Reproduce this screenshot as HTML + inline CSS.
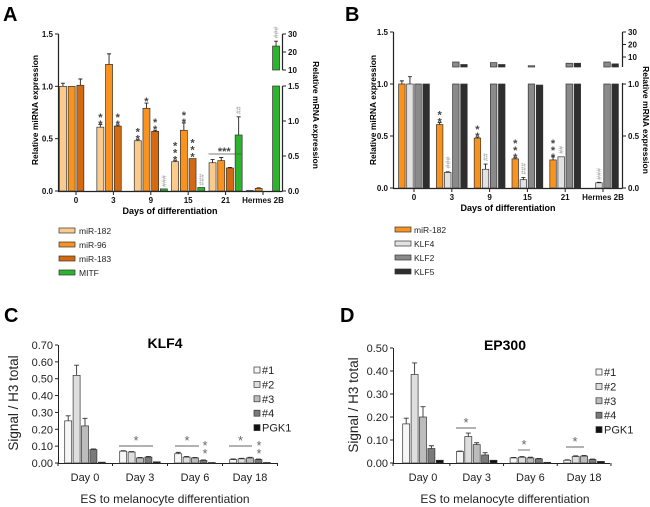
<!DOCTYPE html>
<html><head><meta charset="utf-8"><style>
html,body{margin:0;padding:0;background:#fff}
svg{display:block;font-family:"Liberation Sans",Arial,sans-serif}
</style></head><body>
<svg id="fig" width="650" height="507" viewBox="0 0 650 507"></svg>
<script>
// ---------- Panel A data ----------
const aCats=['0','3','9','15','21','Hermes 2B'];
const aMir182=[1.0,0.61,0.48,0.28,0.27,0.005];
const aMir182Err=[0.03,0.025,0.01,0.01,0.03,0];
const aMir96=[1.0,1.21,0.79,0.58,0.29,0.025];
const aMir96Err=[0,0.1,0.05,0.07,0.03,0.005];
const aMir183=[1.01,0.62,0.57,0.31,0.22,null];
const aMir183Err=[0.06,0.01,0.01,0,0.005,0];
const aMitf=[null,null,0.03,0.05,0.80,23.3];
const aMitfErr=[0,0,0,0,0.26,2.7];
const aLeftTicks=[0,0.5,1.0,1.5];
const aRightLowTicks=[0,0.5,1.0,1.5];
const aRightHighTicks=[10,20,30];
// ---------- Panel B data ----------
const bCats=['0','3','9','15','21','Hermes 2B'];
const bMir182=[1.0,0.61,0.48,0.28,0.27,0];
const bMir182Err=[0.03,0.02,0.01,0.01,0.03,0];
const bKlf4=[1.0,0.15,0.18,0.08,0.30,0.05];
const bKlf4Err=[0.07,0.005,0.05,0.02,0,0.005];
const bKlf2=[1,6,5.5,3,5,6];
const bKlf5=[1,4,4,0.99,5,4.5];
const bLeftTicks=[0,0.5,1.0,1.5];
const bRightLowTicks=[0,0.5,1.0];
const bRightHighTicks=[10,20,30];
// ---------- Panel C data ----------
const cCats=['Day 0','Day 3','Day 6','Day 18'];
const c1=[0.25,0.07,0.055,0.02];
const c1Err=[0.03,0.003,0.008,0.004];
const c2=[0.52,0.065,0.035,0.025];
const c2Err=[0.06,0.003,0.004,0.003];
const c3=[0.22,0.03,0.03,0.03];
const c3Err=[0.045,0.003,0.003,0.004];
const c4=[0.08,0.035,0.015,0.02];
const c4Err=[0.003,0.004,0.003,0.003];
const cPgk=[0.005,0.007,0.003,0.003];
const cTicks=[0,0.1,0.2,0.3,0.4,0.5,0.6,0.7];
// ---------- Panel D data ----------
const dCats=['Day 0','Day 3','Day 6','Day 18'];
const d1=[0.17,0.05,0.022,0.012];
const d1Err=[0.025,0.002,0.002,0.002];
const d2=[0.385,0.115,0.025,0.028];
const d2Err=[0.05,0.015,0.003,0.003];
const d3=[0.2,0.08,0.022,0.03];
const d3Err=[0.045,0.008,0.003,0.003];
const d4=[0.063,0.035,0.018,0.015];
const d4Err=[0.012,0.01,0.002,0.002];
const dPgk=[0.012,0.012,0.003,0.007];
const dTicks=[0,0.1,0.2,0.3,0.4,0.5];

const NS='http://www.w3.org/2000/svg';
const svg=document.getElementById('fig');
function mk(tag,attrs,parent){const e=document.createElementNS(NS,tag);for(const k in attrs)e.setAttribute(k,attrs[k]);(parent||svg).appendChild(e);return e;}
function txt(x,y,s,attrs,parent){const e=mk('text',Object.assign({x:x,y:y},attrs||{}),parent);e.textContent=s;return e;}
function grp(name){const g=mk('g',{});return g;}

// ================= PANEL A =================
(function(){
const g=grp('panel-a');
const yL=v=>191-104.67*v;
const yR=v=>v<=1.5?191-70*v:70-(v-10)*1.8;
const cx=i=>76+37.4*i;
const slot=(i,s)=>cx(i)+(s-1.5)*8.7;
const bw=7;
const pl=txt(3,21,'A',{'font-size':20,'font-weight':'bold'},g);

const ax=mk('path',{d:'M58.5,34V191.5H282.5',stroke:'#222','stroke-width':1.2,fill:'none'},g);

const ra=mk('path',{d:'M282.5,86V191.5M282.5,34V70',stroke:'#222','stroke-width':1.2,fill:'none'},g);

aLeftTicks.forEach(v=>{mk('line',{x1:55,x2:58.5,y1:yL(v),y2:yL(v),stroke:'#222'},g);
 const t=txt(53,yL(v)+3,v.toFixed(1),{'font-size':8,'font-weight':'bold','text-anchor':'end',fill:'#111'},g);
 });
aRightLowTicks.forEach(v=>{mk('line',{x1:282.5,x2:286,y1:yR(v),y2:yR(v),stroke:'#222'},g);
 const t=txt(288,yR(v)+3,v.toFixed(1),{'font-size':8,'font-weight':'bold',fill:'#111'},g);
 });
aRightHighTicks.forEach(v=>{mk('line',{x1:282.5,x2:286,y1:yR(v),y2:yR(v),stroke:'#222'},g);
 const t=txt(288,yR(v)+3,String(v),{'font-size':8,'font-weight':'bold',fill:'#111'},g);
 });
aCats.forEach((c,i)=>{mk('line',{x1:cx(i),x2:cx(i),y1:191.5,y2:195},g);
 const t=txt(cx(i),203,c,{'font-size':8,'font-weight':'bold','text-anchor':'middle',fill:'#111'},g);
 });
g.querySelectorAll('line').forEach(l=>l.setAttribute('stroke','#222'));
const xt=txt(170,214,'Days of differentiation',{'font-size':9,'font-weight':'bold','text-anchor':'middle'},g);

const yt=txt(0,0,'Relative miRNA expression',{'font-size':8.5,'font-weight':'bold','text-anchor':'middle',transform:'translate(38,110) rotate(-90)'},g);

const yt2=txt(0,0,'Relative mRNA expression',{'font-size':8.5,'font-weight':'bold','text-anchor':'middle',transform:'translate(313,115) rotate(90)'},g);

function bar(x,y0,y1,fill,name){const r=mk('rect',{x:x-bw/2,y:Math.min(y0,y1),width:bw,height:Math.abs(y1-y0),fill:fill,stroke:'#333','stroke-width':0.7},g);
 return r;}
function err(x,yt,ye){if(ye>=yt-0.5)return;mk('path',{d:`M${x},${yt}V${ye}M${x-2},${ye}H${x+2}`,stroke:'#222','stroke-width':0.9,fill:'none'},g);}
const series=[[aMir182,aMir182Err,'#fbcb8e','bar-mir-182'],[aMir96,aMir96Err,'#f7931e','bar-mir-96'],[aMir183,aMir183Err,'#d4690f','bar-mir-183']];
series.forEach((s,si)=>{s[0].forEach((v,i)=>{if(v===null)return;const x=slot(i,si);bar(x,191,yL(v),s[2],s[3]);err(x,yL(v),yL(v+s[1][i]));});});
aMitf.forEach((v,i)=>{if(v===null)return;const x=slot(i,3);
 if(v<=1.5){bar(x,191,yR(v),'#2cb52c','bar-mitf');err(x,yR(v),yR(v+aMitfErr[i]));}
 else{bar(x,191,86,'#2cb52c','bar-mitf');bar(x,70,yR(v),'#2cb52c','bar-mitf-upper');err(x,yR(v),yR(v+aMitfErr[i]));}});
function vstack(x,yb,n){for(let k=0;k<n;k++){const t=txt(x,yb+2-k*7,'*',{'font-size':11,'font-weight':'bold','text-anchor':'middle',fill:'#444'},g);}}
function hashes(x,yb,n){const t=txt(0,0,'#'.repeat(n),{'font-size':7,fill:'#999',transform:`translate(${x+2.5},${yb}) rotate(-90)`},g);}
vstack(slot(1,0),yL(0.64)+2,2);vstack(slot(1,2),yL(0.64)+2,2);
vstack(slot(2,0),yL(0.5)+2,2);vstack(slot(2,1),yL(0.86)+2,1);vstack(slot(2,2),yL(0.59)+2,2);
vstack(slot(3,0),yL(0.30)+2,3);vstack(slot(3,1),yL(0.66)+2,2);vstack(slot(3,2),yL(0.33)+2,3);
hashes(slot(2,3),yR(0.03)-2,3);hashes(slot(3,3),yR(0.05)-2,3);hashes(slot(4,3),yR(1.07)-2,2);hashes(slot(5,3),yR(26.5)-2,3);
mk('line',{x1:slot(4,0)-4,x2:slot(4,3)+3,y1:154,y2:154,stroke:'#555','stroke-width':0.8},g);
const st=txt((slot(4,0)+slot(4,2))/2+3,155,'***',{'font-size':11,'font-weight':'bold','text-anchor':'middle',fill:'#444'},g);

const lg=grp('a-legend');g.appendChild(lg);
[['miR-182','#fbcb8e'],['miR-96','#f7931e'],['miR-183','#d4690f'],['MITF','#2cb52c']].forEach((e,k)=>{
 const it=mk('g',{},lg);
 mk('rect',{x:59,y:228+k*14,width:16,height:5,fill:e[1],stroke:'#333','stroke-width':0.7},it);
 txt(79,234+k*14,e[0],{'font-size':8.5,fill:'#222'},it);});
})();

// ================= PANEL B =================
(function(){
const g=grp('panel-b');
const yL=v=>188-104*v;
const yU=v=>69.5-1.25*v;
const cx=i=>414+37.8*i;
const slot=(i,s)=>cx(i)+(s-1.5)*8.1;
const bw=6.5;
const pl=txt(345,21,'B',{'font-size':20,'font-weight':'bold'},g);

const ax=mk('path',{d:'M393.5,32V188.5H622.5',stroke:'#222','stroke-width':1.2,fill:'none'},g);

const ra=mk('path',{d:'M622.5,83V188.5M622.5,32V67',stroke:'#222','stroke-width':1.2,fill:'none'},g);

bLeftTicks.forEach(v=>{mk('line',{x1:390,x2:393.5,y1:yL(v),y2:yL(v),stroke:'#222'},g);
 const t=txt(388,yL(v)+3,v.toFixed(1),{'font-size':8,'font-weight':'bold','text-anchor':'end',fill:'#111'},g);
 });
bRightLowTicks.forEach(v=>{mk('line',{x1:622.5,x2:626,y1:yL(v),y2:yL(v),stroke:'#222'},g);
 const t=txt(628,yL(v)+3,v.toFixed(1),{'font-size':8,'font-weight':'bold',fill:'#111'},g);
 });
bRightHighTicks.forEach(v=>{mk('line',{x1:622.5,x2:626,y1:yU(v),y2:yU(v),stroke:'#222'},g);
 const t=txt(628,yU(v)+3,String(v),{'font-size':8,'font-weight':'bold',fill:'#111'},g);
 });
bCats.forEach((c,i)=>{mk('line',{x1:cx(i),x2:cx(i),y1:188.5,y2:192,stroke:'#222'},g);
 const t=txt(cx(i),200,c,{'font-size':8,'font-weight':'bold','text-anchor':'middle',fill:'#111'},g);
 });
const xt=txt(508,211,'Days of differentiation',{'font-size':9,'font-weight':'bold','text-anchor':'middle'},g);

const yt=txt(0,0,'Relative miRNA expression',{'font-size':8.5,'font-weight':'bold','text-anchor':'middle',transform:'translate(376,110) rotate(-90)'},g);

const yt2=txt(0,0,'Relative mRNA expression',{'font-size':8.5,'font-weight':'bold','text-anchor':'middle',transform:'translate(643,120) rotate(90)'},g);

function bar(x,y0,y1,fill,name){const r=mk('rect',{x:x-bw/2,y:Math.min(y0,y1),width:bw,height:Math.max(0.8,Math.abs(y1-y0)),fill:fill,stroke:'#333','stroke-width':0.7},g);
 return r;}
function err(x,yt,ye){if(ye>=yt-0.5)return;mk('path',{d:`M${x},${yt}V${ye}M${x-2},${ye}H${x+2}`,stroke:'#222','stroke-width':0.9,fill:'none'},g);}
bMir182.forEach((v,i)=>{const x=slot(i,0);if(v>0)bar(x,188,yL(v),'#f7931e','bar-mir-182');err(x,yL(v),yL(v+bMir182Err[i]));});
bKlf4.forEach((v,i)=>{const x=slot(i,1);bar(x,188,yL(v),'#e2e2e2','bar-klf4');err(x,yL(v),yL(v+bKlf4Err[i]));});
[[bKlf2,'#8a8a8a','bar-klf2'],[bKlf5,'#2e2e2e','bar-klf5']].forEach((s,si)=>{s[0].forEach((v,i)=>{const x=slot(i,2+si);
 bar(x,188,yL(Math.min(v,1)),s[1],s[2]);if(v>2)bar(x,67,yU(v),s[1],s[2]+'-upper');});});
function vstack(x,yb,n){for(let k=0;k<n;k++){const t=txt(x,yb+2-k*7,'*',{'font-size':11,'font-weight':'bold','text-anchor':'middle',fill:'#444'},g);}}
function hashes(x,yb,n){const t=txt(0,0,'#'.repeat(n),{'font-size':7,fill:'#999',transform:`translate(${x+2.5},${yb}) rotate(-90)`},g);}
vstack(slot(1,0),yL(0.64)+2,2);vstack(slot(2,0),yL(0.5)+2,2);vstack(slot(3,0),yL(0.30)+2,3);vstack(slot(4,0),yL(0.30)+2,3);
hashes(slot(1,1),yL(0.17)-2,3);hashes(slot(2,1),yL(0.24)-2,2);hashes(slot(3,1),yL(0.11)-2,3);hashes(slot(4,1),yL(0.31)-2,2);hashes(slot(5,1),yL(0.06)-2,3);
const lg=grp('b-legend');g.appendChild(lg);
[['miR-182','#f7931e'],['KLF4','#e2e2e2'],['KLF2','#8a8a8a'],['KLF5','#2e2e2e']].forEach((e,k)=>{
 const it=mk('g',{},lg);
 mk('rect',{x:395,y:227+k*14,width:16,height:5,fill:e[1],stroke:'#333','stroke-width':0.7},it);
 txt(414,233+k*14,e[0],{'font-size':8.5,fill:'#222'},it);});
})();

// ================= PANELS C & D =================
function chipPanel(opt){
 const g=grp(opt.name);
 const y=v=>opt.y0-v*opt.k;
 const cx=i=>opt.c0+opt.sp*i;
 const slot=(i,s)=>cx(i)+(s-2)*8.4;
 const bw=7;
 const pl=txt(opt.lx,opt.ly,opt.letter,{'font-size':20,'font-weight':'bold'},g);
 
 const tt=txt(opt.tx,opt.ty,opt.title,{'font-size':14,'font-weight':'bold','text-anchor':'middle'},g);
 
 const ax=mk('path',{d:`M${opt.ax}.5,${y(opt.ticks[opt.ticks.length-1])}V${opt.y0+0.5}H${opt.axEnd}`,stroke:'#222','stroke-width':1,fill:'none'},g);
 
 opt.ticks.forEach(v=>{mk('line',{x1:opt.ax-3,x2:opt.ax,y1:y(v),y2:y(v),stroke:'#222'},g);
  const t=txt(opt.ax-5,y(v)+4,v.toFixed(2),{'font-size':11,'text-anchor':'end',fill:'#222'},g);
  });
 opt.cats.forEach((c,i)=>{mk('line',{x1:cx(i)+opt.sp/2,x2:cx(i)+opt.sp/2,y1:opt.y0,y2:opt.y0+3,stroke:'#222'},g);
  const t=txt(cx(i),opt.y0+18,c,{'font-size':11,'text-anchor':'middle',fill:'#222'},g);
  });
 mk('line',{x1:opt.ax,x2:opt.ax,y1:opt.y0,y2:opt.y0+3,stroke:'#222'},g);
 const xt=txt(opt.xtx,opt.y0+40,'ES to melanocyte differentiation',{'font-size':12,'text-anchor':'middle',fill:'#222'},g);
 
 const yt=txt(0,0,'Signal / H3 total',{'font-size':13.5,'text-anchor':'middle',fill:'#222',transform:`translate(${opt.ytx},${opt.yty}) rotate(-90)`},g);
 
 const fills=['#f6f6f6','#dedede','#bcbcbc','#7a7a7a','#111'];
 const names=['bar-1','bar-2','bar-3','bar-4','bar-pgk1'];
 opt.series.forEach((s,si)=>{s.forEach((v,i)=>{const x=slot(i,si);
  const r=mk('rect',{x:x-bw/2,y:y(v),width:bw,height:Math.max(0.8,opt.y0-y(v)),fill:fills[si],stroke:'#333','stroke-width':0.7},g);
  
  const e=opt.errs[si];if(e&&e[i]>0){const ye=y(v+e[i]);mk('path',{d:`M${x},${y(v)}V${ye}M${x-2.5},${ye}H${x+2.5}`,stroke:'#333','stroke-width':0.9,fill:'none'},g);}
 });});
 opt.sig.forEach(s=>{mk('line',{x1:s[0],x2:s[1],y1:s[2],y2:s[2],stroke:'#666','stroke-width':0.9},g);
  const t=txt((s[0]+s[1])/2,s[2]-1,'*',{'font-size':13,'text-anchor':'middle',fill:'#666'},g);
  });
 (opt.side||[]).forEach(s=>{const t=txt(s[0],s[1],'*',{'font-size':13,'text-anchor':'middle',fill:'#666'},g);
  });
 const lg=grp('legend');g.appendChild(lg);
 ['#1','#2','#3','#4','PGK1'].forEach((n,k)=>{const it=mk('g',{},lg);
  
  mk('rect',{x:opt.legx,y:opt.legy+k*14.4-4,width:6,height:6,fill:fills[k],stroke:'#333','stroke-width':0.7},it);
  txt(opt.legx+8,opt.legy+k*14.4+3,n,{'font-size':11,fill:'#222'},it);});
}
chipPanel({name:'panel-c',letter:'C',lx:4,ly:322,title:'KLF4',tx:165,ty:348,y0:463,k:118/0.7,c0:85,sp:55,ax:58,axEnd:278,
 ticks:cTicks,cats:cCats,xtx:165,ytx:18,yty:403,series:[c1,c2,c3,c4,cPgk],errs:[c1Err,c2Err,c3Err,c4Err,null],
 sig:[[119,153,446],[175,199,446],[229,252,446]],side:[[205,450],[205,458],[259,450],[259,458]],legx:254,legy:371});
chipPanel({name:'panel-d',letter:'D',lx:340,ly:322,title:'EP300',tx:505,ty:350,y0:463,k:230,c0:423,sp:53.7,ax:393,axEnd:610,
 ticks:dTicks,cats:dCats,xtx:505,ytx:358,yty:405,series:[d1,d2,d3,d4,dPgk],errs:[d1Err,d2Err,d3Err,d4Err,null],
 sig:[[456,476,428],[518,530,450],[566,584,447]],side:[],legx:596,legy:373});
</script>
</body></html>
